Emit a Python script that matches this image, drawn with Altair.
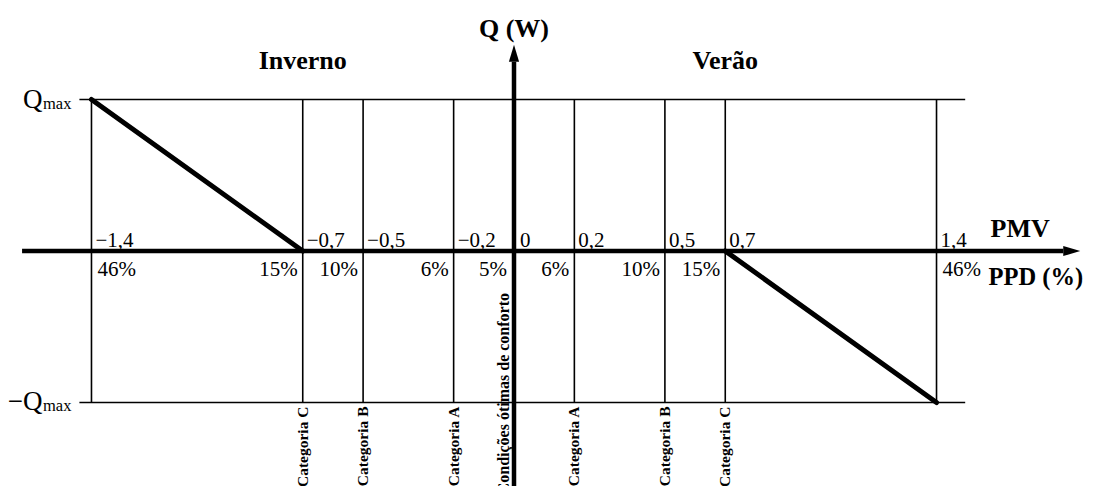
import altair as alt
import pandas as pd

# ---- data ----
pmv_lines = [-1.4, -0.7, -0.5, -0.2, 0.2, 0.5, 0.7, 1.4]          # thin vertical lines
pmv_tick_pos = [-1.4, -0.7, -0.5, -0.2, 0.0, 0.2, 0.5, 0.7, 1.4]
pmv_tick_labels = ["−1,4", "−0,7", "−0,5", "−0,2", "0", "0,2", "0,5", "0,7", "1,4"]
ppd_labels = ["46%", "15%", "10%", "6%", "5%", "6%", "10%", "15%", "46%"]
cat_pos = [-0.7, -0.5, -0.2, 0.2, 0.5, 0.7]
cat_labels = ["Categoria C", "Categoria B", "Categoria A",
              "Categoria A", "Categoria B", "Categoria C"]
q_levels = [1, -1]
q_prefix = ["Q", "−Q"]
q_sub = ["max", "max"]
winter_pmv = [-1.4, -0.7]
winter_q = [1, 0]
summer_pmv = [0.7, 1.4]
summer_q = [0, -1]
hline_range = [-1.44, 1.495]
pmv_axis_range = [-1.63, 1.82]
q_axis_range = [-1.62, 1.25]
season_pos = [-0.7, 0.7]
season_labels = ["Inverno", "Verão"]

FONT = "Liberation Serif"
xs = alt.Scale(domain=[-1.6766, 1.8986], nice=False, zero=False)
ys = alt.Scale(domain=[-1.5512, 1.6040], nice=False, zero=False)


def X(f="x"):
    return alt.X(f"{f}:Q", scale=xs, axis=None)


def Y(f="y"):
    return alt.Y(f"{f}:Q", scale=ys, axis=None)


layers = []

# thin vertical lines
vl = pd.DataFrame({"x": pmv_lines, "y": [-1] * len(pmv_lines), "y2": [1] * len(pmv_lines)})
layers.append(alt.Chart(vl).mark_rule(color="black", strokeWidth=1.6).encode(
    x=X(), y=Y(), y2="y2:Q"))

# thin horizontal lines at +-Qmax
hl = pd.DataFrame({"y": q_levels, "x": [hline_range[0]] * 2, "x2": [hline_range[1]] * 2})
layers.append(alt.Chart(hl).mark_rule(color="black", strokeWidth=1.6).encode(
    x=X(), x2="x2:Q", y=Y()))

# main axes
ax_h = pd.DataFrame({"x": [pmv_axis_range[0]], "x2": [pmv_axis_range[1]], "y": [0]})
layers.append(alt.Chart(ax_h).mark_rule(color="black", strokeWidth=4.5).encode(
    x=X(), x2="x2:Q", y=Y()))
ax_v = pd.DataFrame({"x": [0], "y": [q_axis_range[0]], "y2": [q_axis_range[1]]})
layers.append(alt.Chart(ax_v).mark_rule(color="black", strokeWidth=4.5).encode(
    x=X(), y=Y(), y2="y2:Q"))

# arrow heads
arr_r = pd.DataFrame({"x": [pmv_axis_range[1]], "y": [0]})
layers.append(alt.Chart(arr_r).mark_point(
    shape="M0,-0.6L2,0L0,0.6Z", filled=True, color="black", opacity=1, size=289, strokeWidth=0
).encode(x=X(), y=Y()))
arr_u = pd.DataFrame({"x": [0], "y": [q_axis_range[1]]})
layers.append(alt.Chart(arr_u).mark_point(
    shape="M-0.6,0L0,-2L0.6,0Z", filled=True, color="black", opacity=1, size=289, strokeWidth=0
).encode(x=X(), y=Y()))

# thick diagonal lines
w = pd.DataFrame({"x": winter_pmv, "y": winter_q})
layers.append(alt.Chart(w).mark_line(color="black", strokeWidth=5, strokeCap="round").encode(
    x=X(), y=Y()))
s = pd.DataFrame({"x": summer_pmv, "y": summer_q})
layers.append(alt.Chart(s).mark_line(color="black", strokeWidth=5, strokeCap="round").encode(
    x=X(), y=Y()))

# PMV labels above axis
pl = pd.DataFrame({"x": pmv_tick_pos, "y": [0] * len(pmv_tick_pos), "t": pmv_tick_labels})
layers.append(alt.Chart(pl[pl.x != 0]).mark_text(
    font=FONT, fontSize=21, align="left", baseline="alphabetic", dx=4, dy=-4, color="black"
).encode(x=X(), y=Y(), text="t:N"))
layers.append(alt.Chart(pl[pl.x == 0]).mark_text(
    font=FONT, fontSize=21, align="left", baseline="alphabetic", dx=6, dy=-4, color="black"
).encode(x=X(), y=Y(), text="t:N"))

# PPD labels below axis
pp = pd.DataFrame({"x": pmv_tick_pos, "y": [0] * len(pmv_tick_pos), "t": ppd_labels})
ext = pp[pp.x.abs() >= 1.4]
inner = pp[(pp.x.abs() < 1.4) & (pp.x != 0)]
zero = pp[pp.x == 0]
layers.append(alt.Chart(ext).mark_text(
    font=FONT, fontSize=21, align="left", baseline="alphabetic", dx=6, dy=25, color="black"
).encode(x=X(), y=Y(), text="t:N"))
layers.append(alt.Chart(inner).mark_text(
    font=FONT, fontSize=21, align="right", baseline="alphabetic", dx=-5, dy=25, color="black"
).encode(x=X(), y=Y(), text="t:N"))
layers.append(alt.Chart(zero).mark_text(
    font=FONT, fontSize=21, align="right", baseline="alphabetic", dx=-7, dy=25, color="black"
).encode(x=X(), y=Y(), text="t:N"))

# category labels (rotated)
cl = pd.DataFrame({"x": cat_pos, "y": [-1] * len(cat_pos), "t": cat_labels})
layers.append(alt.Chart(cl).mark_text(
    font=FONT, fontSize=15.5, fontWeight="bold", angle=270, align="right",
    baseline="middle", dx=-4, color="black"
).encode(x=X(), y=Y(), text="t:N"))
cond = pd.DataFrame({"x": [0], "y": [0], "t": ["Condições ótimas de conforto"]})
layers.append(alt.Chart(cond).mark_text(
    font=FONT, fontSize=16, fontWeight="bold", angle=270, align="right",
    baseline="middle", dx=-42, dy=-10, color="black"
).encode(x=X(), y=Y(), text="t:N"))

# Qmax labels
ql = pd.DataFrame({"x": [hline_range[0]] * 2, "y": q_levels, "p": q_prefix, "s": q_sub})
layers.append(alt.Chart(ql).mark_text(
    font=FONT, fontSize=27, align="right", baseline="alphabetic", dx=-37, dy=8, color="black"
).encode(x=X(), y=Y(), text="p:N"))
layers.append(alt.Chart(ql).mark_text(
    font=FONT, fontSize=16.5, align="right", baseline="alphabetic", dx=-8, dy=9, color="black"
).encode(x=X(), y=Y(), text="s:N"))

# season titles
st = pd.DataFrame({"x": season_pos, "y": [1, 1], "t": season_labels})
layers.append(alt.Chart(st).mark_text(
    font=FONT, fontSize=26, fontWeight="bold", align="center", baseline="alphabetic",
    dy=-31, color="black"
).encode(x=X(), y=Y(), text="t:N"))

# axis titles
qt = pd.DataFrame({"x": [0], "y": [1], "t": ["Q (W)"]})
layers.append(alt.Chart(qt).mark_text(
    font=FONT, fontSize=26, fontWeight="bold", align="center", baseline="alphabetic",
    dy=-63, color="black"
).encode(x=X(), y=Y(), text="t:N"))
at = pd.DataFrame({"x": [1.4, 1.4], "y": [0, 0], "t": ["PMV", "PPD (%)"]})
layers.append(alt.Chart(at[at.t == "PMV"]).mark_text(
    font=FONT, fontSize=26, fontWeight="bold", align="left", baseline="alphabetic",
    dx=54, dy=-14, color="black"
).encode(x=X(), y=Y(), text="t:N"))
layers.append(alt.Chart(at[at.t != "PMV"]).mark_text(
    font=FONT, fontSize=24.5, fontWeight="bold", align="left", baseline="alphabetic",
    dx=52, dy=34, color="black"
).encode(x=X(), y=Y(), text="t:N"))

chart = alt.layer(*layers).properties(
    width=1079, height=478, padding=0,
    autosize=alt.AutoSizeParams(type="none"),
    background="white",
).configure_view(stroke=None)

chart.save("out.html", embed_options={"renderer": "svg", "actions": False})
